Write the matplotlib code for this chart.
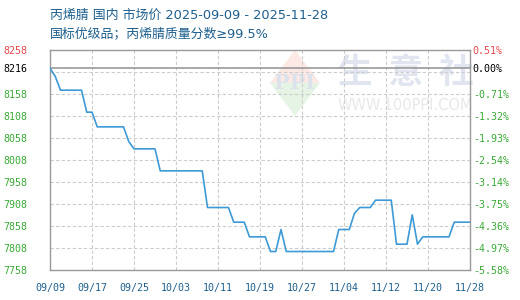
import matplotlib
matplotlib.use("Agg")
import matplotlib.pyplot as plt
import matplotlib.dates as mdates
from matplotlib.patches import Polygon
import pandas as pd

# ---- data ----
start_date = "2025-09-09"
prices = ([8216.67, 8198] + [8166.67] * 5 + [8116.67] * 2 + [8083.33] * 6 + [8050]
          + [8033.33] * 5 + [7983.33] * 9 + [7900] * 5 + [7866.67] * 3 + [7833.33] * 4
          + [7800] * 2 + [7850] + [7800] * 10 + [7850] * 3 + [7887] + [7900] * 3
          + [7916.67] * 4 + [7816.67] * 3 + [7883.33] + [7816.67] + [7833.33] * 6
          + [7866.67] * 4)
dates = pd.date_range(start_date, periods=len(prices), freq="D")

left_ticks = [8258, 8216, 8158, 8108, 8058, 8008, 7958, 7908, 7858, 7808, 7758]
left_labels = ["8258", "8216", "8158", "8108", "8058", "8008", "7958", "7908", "7858", "7808", "7758"]
right_labels = ["0.51%", "0.00%", "-0.71%", "-1.32%", "-1.93%", "-2.54%", "-3.14%",
                "-3.75%", "-4.36%", "-4.97%", "-5.58%"]
grid_levels = [8208, 8158, 8108, 8058, 8008, 7958, 7908, 7858, 7808]
base_level = 8216
x_tick_dates = pd.date_range("2025-09-09", "2025-11-28", freq="8D")
title1 = "丙烯腈 国内 市场价 2025-09-09 - 2025-11-28"
title2 = "国标优级品；丙烯腈质量分数≥99.5%"

RED = "#e8484c"
GREEN = "#3aaa35"
BLUE_TXT = "#1d5f8e"
LINE = "#3d9ad6"

plt.rcParams['font.family'] = ['Noto Sans CJK SC', 'DejaVu Sans']

fig = plt.figure(figsize=(5.2, 3.0), dpi=100)
ax = fig.add_axes([50 / 520, 30 / 300, 420 / 520, 220 / 300])

ymin, ymax = 7758, 8258
ax.set_ylim(ymin, ymax)
ax.set_xlim(dates[0], pd.Timestamp("2025-11-28"))

# watermark
def px2data(px, py):
    fx = (px - 50) / 420
    fy = (270 - py) / 220
    return fx, fy

t = ax.transAxes
top = [px2data(*p) for p in [(270, 83), (295, 50), (320, 83)]]
bot = [px2data(*p) for p in [(270, 83), (295, 116), (320, 83)]]
ax.add_patch(Polygon(top, closed=True, transform=t, facecolor="#fce8e5", edgecolor="none", zorder=0))
ax.add_patch(Polygon(bot, closed=True, transform=t, facecolor="#e5f4e4", edgecolor="none", zorder=0))
fx, fy = px2data(295, 83)
ax.text(fx, fy, "PPI", transform=t, ha="center", va="center", fontsize=15,
        family="DejaVu Serif", fontweight="bold", color="#dbe2ec", zorder=0.5)
fx, fy = px2data(406, 72)
ax.text(fx, fy, "生  意  社", transform=t, ha="center", va="center", fontsize=25,
        color="#e0e5ef", fontweight="bold", zorder=0.5)
fx, fy = px2data(405, 105)
ax.text(fx, fy, "WWW.100PPI.COM", transform=t, ha="center", va="center", fontsize=10.5,
        family="DejaVu Sans", color="#e8e8e8", zorder=0.5)

# grid
for g in grid_levels:
    ax.axhline(g, color="#cccccc", lw=0.8, ls=(0, (3, 2)), zorder=1)
for d in x_tick_dates[1:-1]:
    ax.axvline(d, color="#cccccc", lw=0.8, ls=(0, (3, 2)), zorder=1)
ax.axhline(base_level, color="#999999", lw=1.2, zorder=2)

ax.plot(dates, prices, color=LINE, lw=1.2, zorder=3)

for s in ax.spines.values():
    s.set_color("#999999")
    s.set_linewidth(1.0)

ax.set_yticks(left_ticks)
ax.set_yticklabels(left_labels, family="DejaVu Sans Mono", fontsize=7.2)
ax.tick_params(axis="y", length=0, pad=16)
for i, lab in enumerate(ax.get_yticklabels()):
    lab.set_color(RED if i == 0 else ("black" if i == 1 else GREEN))

ax2 = ax.twinx()
ax2.set_ylim(ymin, ymax)
ax2.set_yticks(left_ticks)
ax2.set_yticklabels(right_labels, family="DejaVu Sans Mono", fontsize=7.2)
ax2.tick_params(axis="y", length=0, pad=2)
for i, lab in enumerate(ax2.get_yticklabels()):
    lab.set_color(RED if i == 0 else ("black" if i == 1 else GREEN))
for s in ax2.spines.values():
    s.set_visible(False)

ax.set_xticks(x_tick_dates)
ax.xaxis.set_major_formatter(mdates.DateFormatter("%m/%d"))
ax.tick_params(axis="x", length=0, pad=9, labelcolor=BLUE_TXT, labelsize=7.2)
for lab in ax.get_xticklabels():
    lab.set_family("DejaVu Sans Mono")

title_fam = ['DejaVu Sans', 'Noto Sans CJK SC']
fig.text(50 / 520, 1 - 15 / 300, title1, ha="left", va="center", fontsize=9.3,
         color=BLUE_TXT, family=title_fam)
fig.text(50 / 520, 1 - 34 / 300, title2, ha="left", va="center", fontsize=9.3,
         color=BLUE_TXT, family=title_fam)

fig.savefig("out.png", dpi=100)
